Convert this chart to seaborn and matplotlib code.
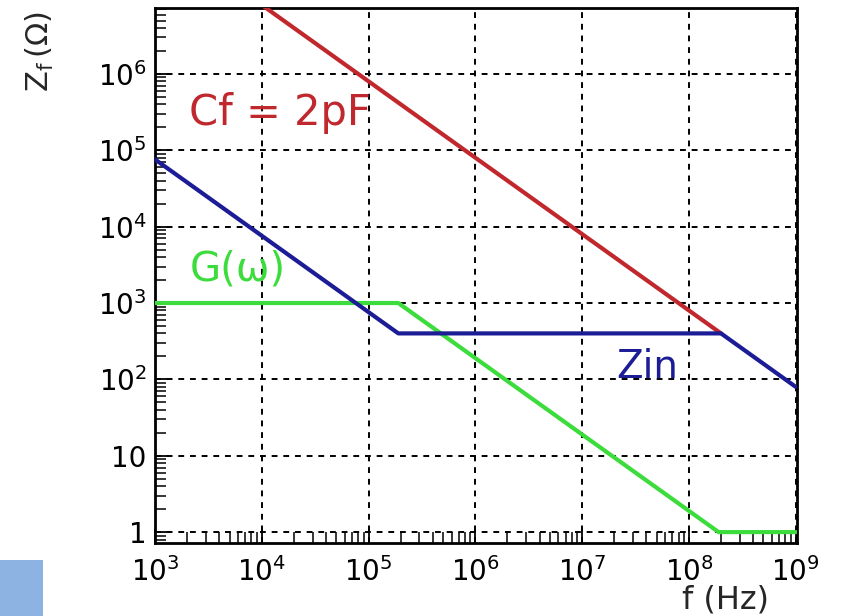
import numpy as np
import pandas as pd
import matplotlib
matplotlib.use("Agg")
import matplotlib.pyplot as plt
import seaborn as sns
from matplotlib.patches import Rectangle
from matplotlib.ticker import FixedLocator, FixedFormatter, LogLocator, NullFormatter

# ---- data ----
cf_freq = [1.0e4, 2.0e8]
cf_z = [8.0e6, 400.0]

zin_freq = [1.0e3, 1.9e5, 2.0e8, 1.0e9]
zin_z = [7.6e4, 400.0, 400.0, 80.0]

g_freq = [1.0e3, 1.9e5, 1.9e8, 1.0e9]
g_z = [1000.0, 1000.0, 1.0, 1.0]

x_ticks = [1e3, 1e4, 1e5, 1e6, 1e7, 1e8, 1e9]
x_ticklabels = [r"$\mathregular{10^{3}}$", r"$\mathregular{10^{4}}$", r"$\mathregular{10^{5}}$",
                r"$\mathregular{10^{6}}$", r"$\mathregular{10^{7}}$", r"$\mathregular{10^{8}}$",
                r"$\mathregular{10^{9}}$"]
y_ticks = [1, 10, 1e2, 1e3, 1e4, 1e5, 1e6]
y_ticklabels = ["1", "10", r"$\mathregular{10^{2}}$", r"$\mathregular{10^{3}}$",
                r"$\mathregular{10^{4}}$", r"$\mathregular{10^{5}}$", r"$\mathregular{10^{6}}$"]

RED = "#C0282D"
BLUE = "#1C1C96"
GREEN = "#3CDC3C"

sns.set_theme(style="white")
plt.rcParams["font.family"] = ["DejaVu Sans"]
plt.rcParams["mathtext.fontset"] = "dejavusans"

fig = plt.figure(figsize=(8.45, 6.16), dpi=100)
ax = fig.add_axes([155 / 845, 1 - 543 / 616, (797 - 155) / 845, (543 - 8) / 616])

df_g = pd.DataFrame({"f": g_freq, "z": g_z})
df_zin = pd.DataFrame({"f": zin_freq, "z": zin_z})
df_cf = pd.DataFrame({"f": cf_freq, "z": cf_z})

sns.lineplot(data=df_g, x="f", y="z", ax=ax, color=GREEN, lw=3, estimator=None, sort=False, zorder=3)
sns.lineplot(data=df_cf, x="f", y="z", ax=ax, color=RED, lw=3, estimator=None, sort=False, zorder=4)
sns.lineplot(data=df_zin, x="f", y="z", ax=ax, color=BLUE, lw=3, estimator=None, sort=False, zorder=5)

ax.set_xscale("log")
ax.set_yscale("log")
ax.set_xlim(1e3, 1.03e9)
ax.set_ylim(0.72, 7.3e6)

ax.xaxis.set_major_locator(FixedLocator(x_ticks))
ax.xaxis.set_major_formatter(FixedFormatter(x_ticklabels))
ax.yaxis.set_major_locator(FixedLocator(y_ticks))
ax.yaxis.set_major_formatter(FixedFormatter(y_ticklabels))
ax.xaxis.set_minor_locator(LogLocator(base=10, subs=np.arange(2, 10), numticks=20))
ax.yaxis.set_minor_locator(LogLocator(base=10, subs=np.arange(2, 10), numticks=20))
ax.xaxis.set_minor_formatter(NullFormatter())
ax.yaxis.set_minor_formatter(NullFormatter())

ax.tick_params(axis="both", which="major", direction="in", length=10, width=1.3,
               colors="black", labelsize=20, top=False, right=False, bottom=True, left=True)
ax.tick_params(axis="both", which="minor", direction="in", length=8, width=1.1,
               colors="black", top=False, right=False, bottom=True, left=True)
ax.tick_params(axis="x", which="major", pad=10)
ax.tick_params(axis="y", which="major", pad=6)

ax.grid(True, which="major", color="black", linestyle=(0, (3.0, 3.0)), linewidth=1.4, zorder=1)
ax.set_axisbelow(True)

for s in ax.spines.values():
    s.set_color("black")
    s.set_linewidth(2.0)

ax.set_xlabel("")
ax.set_ylabel("")

# annotations
ax.text(2.1e3, 10 ** 5.49, "Cf = 2pF", color=RED, fontsize=30, ha="left", va="center", zorder=2)
ax.text(2.1e3, 10 ** 3.44, "G(ω)", color=GREEN, fontsize=29, ha="left", va="center", zorder=2)
ax.text(10 ** 7.32, 10 ** 2.16, "Zin", color=BLUE, fontsize=28, ha="left", va="center", zorder=2)

# axis titles (ROOT style)
fig.text(726 / 845, 1 - 600 / 616, "f (Hz)", fontsize=23, ha="center", va="center")
fig.text(40 / 845, 1 - 52 / 616, r"$\mathregular{Z_{f}\,(\Omega)}$", fontsize=22,
         rotation=90, ha="center", va="center")

# slide decoration rectangle bottom-left
fig.patches.append(Rectangle((0, 0), 43 / 845, 56 / 616, transform=fig.transFigure,
                             facecolor="#8DB3E2", edgecolor="none", zorder=0))

fig.savefig("out.png", dpi=100)
